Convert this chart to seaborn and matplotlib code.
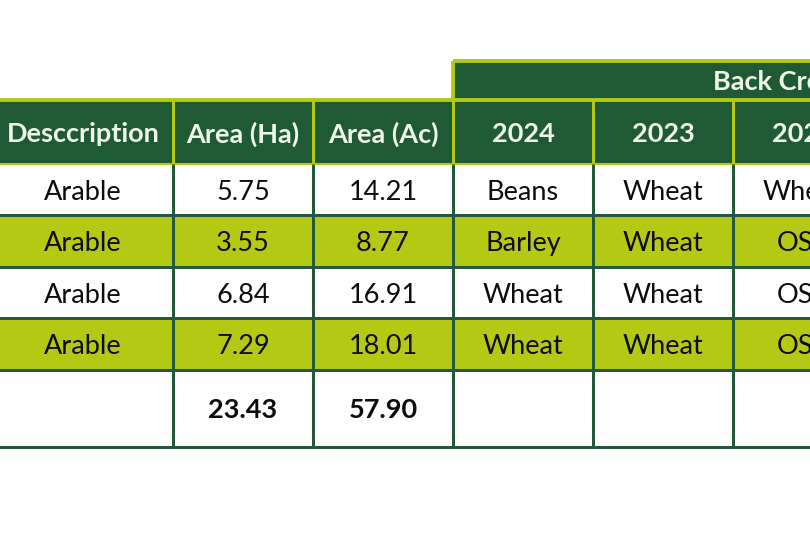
import matplotlib
matplotlib.use("Agg")
import matplotlib.pyplot as plt
from matplotlib.colors import ListedColormap
import numpy as np
import seaborn as sns

# ---- data ----
headers = ["Desccription", "Area (Ha)", "Area (Ac)", "2024", "2023", "2022"]
group_title = "Back Cropping"
descriptions = ["Arable", "Arable", "Arable", "Arable"]
area_ha = [5.75, 3.55, 6.84, 7.29]
area_ac = [14.21, 8.77, 16.91, 18.01]
crops_2024 = ["Beans", "Barley", "Wheat", "Wheat"]
crops_2023 = ["Wheat", "Wheat", "Wheat", "Wheat"]
crops_2022 = ["Wheat", "OSR", "OSR", "OSR"]
total_ha = 23.43
total_ac = 57.90

sns.set_theme(style="white")
FONT = ["Lato", "DejaVu Sans"]
plt.rcParams["font.family"] = FONT

WHITE = "#ffffff"
LIME = "#b3c914"
DARK = "#1f5a35"
LINE_DARK = "#24583a"
HEAD_TXT = "#eef6e8"

# grid units: column widths & row heights
col_units = [9, 7, 7, 7, 7, 7]
col_edges = np.concatenate([[0], np.cumsum(col_units)])
row_units = [3, 5, 4, 4, 4, 4, 6]   # group row, header, 4 data rows, total
row_edges = np.concatenate([[0], np.cumsum(row_units)])
W = int(col_edges[-1])
H = int(row_edges[-1])

# build cell colour-code matrix (0 white, 1 lime, 2 dark green)
mat = np.zeros((H, W))
mat[row_edges[0]:row_edges[1], col_edges[3]:] = 2
mat[row_edges[1]:row_edges[2], :] = 2
for i in range(len(descriptions)):
    code = 0 if i % 2 == 0 else 1
    mat[row_edges[2 + i]:row_edges[3 + i], :] = code

fig = plt.figure(figsize=(8.1, 5.4), dpi=100)
ax = fig.add_axes([-7 / 810, 93 / 540, 880 / 810, 386 / 540])
sns.heatmap(mat, cmap=ListedColormap([WHITE, LIME, DARK]), vmin=-0.5, vmax=2.5,
            cbar=False, ax=ax, xticklabels=False, yticklabels=False)
ax.set_xlim(0, W)
ax.set_ylim(H, 0)

lw = 3 * 72 / 100

# lime lines (group row & header)
ax.hlines(row_edges[0], col_edges[3], W, color=LIME, lw=lw * 1.3, zorder=5, clip_on=False)
ax.vlines(col_edges[3], row_edges[0], row_edges[1], color=LIME, lw=lw * 1.3, zorder=5, clip_on=False)
ax.hlines(row_edges[1], 0, W, color=LIME, lw=lw * 1.3, zorder=5, clip_on=False)
ax.vlines(col_edges[1:-1], row_edges[1], row_edges[2], color=LIME, lw=lw, zorder=5)
ax.hlines(row_edges[2], 0, W, color=LIME, lw=lw * 0.7, zorder=5)

# dark lines (body)
ax.vlines(col_edges[1:-1], row_edges[2], row_edges[-1], color=LINE_DARK, lw=lw, zorder=5)
ax.hlines(row_edges[3:-1], 0, W, color=LINE_DARK, lw=lw, zorder=5)
ax.hlines(row_edges[-1], 0, W, color=LINE_DARK, lw=lw, zorder=5, clip_on=False)

FS = 19.5
centers_x = (col_edges[:-1] + col_edges[1:]) / 2
centers_y = (row_edges[:-1] + row_edges[1:]) / 2

ax.text(36, centers_y[0], group_title, ha="left", va="center_baseline",
        fontsize=FS, fontweight="bold", color=HEAD_TXT, zorder=6)
for j, h in enumerate(headers):
    ax.text(centers_x[j], centers_y[1], h, ha="center", va="center_baseline",
            fontsize=FS, fontweight="bold", color=HEAD_TXT, zorder=6)
for i in range(len(descriptions)):
    vals = [descriptions[i], f"{area_ha[i]:.2f}", f"{area_ac[i]:.2f}",
            crops_2024[i], crops_2023[i], crops_2022[i]]
    for j, v in enumerate(vals):
        ax.text(centers_x[j], centers_y[2 + i], v, ha="center", va="center_baseline",
                fontsize=FS, color="#0d0d0d", zorder=6)
ax.text(centers_x[1], centers_y[6], f"{total_ha:.2f}", ha="center", va="center_baseline",
        fontsize=FS, fontweight="bold", color="#0d0d0d", zorder=6)
ax.text(centers_x[2], centers_y[6], f"{total_ac:.2f}", ha="center", va="center_baseline",
        fontsize=FS, fontweight="bold", color="#0d0d0d", zorder=6)

ax.axis("off")
fig.savefig("out.png", dpi=100)
